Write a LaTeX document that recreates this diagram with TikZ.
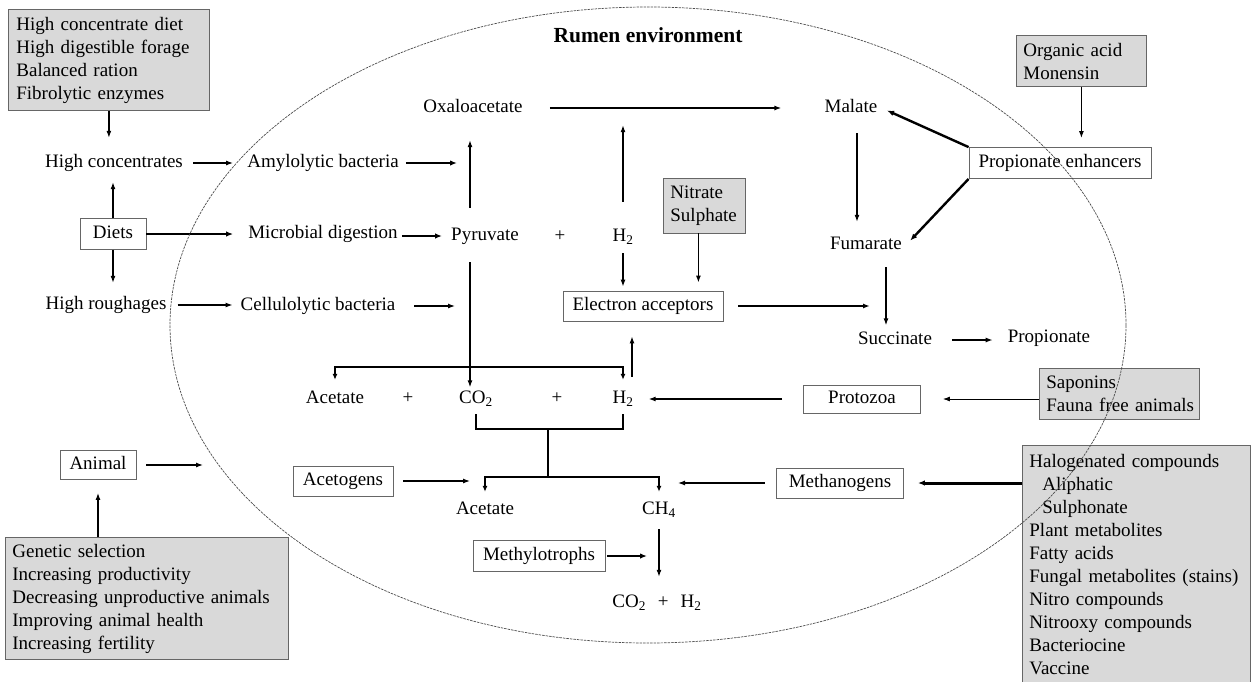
\documentclass[tikz,border=0pt]{standalone}
\usepackage{fontspec}
\setmainfont{Liberation Serif}
\usetikzlibrary{positioning,arrows.meta}

\begin{document}
\begin{tikzpicture}[x=1pt,y=-1pt,
  font=\fontsize{19}{23}\selectfont,
  txt/.style={inner xsep=4pt,inner ysep=3pt,text height=13pt,text depth=4pt},
  plainbox/.style={draw=black!60,fill=white,line width=.8pt,inner sep=0pt,
                   text height=13pt,text depth=4pt},
  graybox/.style={draw=black!60,fill=black!15,line width=.8pt,anchor=north west,
                  align=left,inner xsep=7pt,inner ysep=7.5pt},
  arrow/.style={-{Latex[length=7pt,width=5pt]},line width=1.2pt},
  boldarrow/.style={-{Latex[length=7pt,width=5.5pt]},line width=2.4pt},
  bar/.style={line width=2pt},
  bartip/.style={bar,-{Latex[length=6pt,width=5pt]}},
  rumen/.style={draw=black!70,line width=.7pt,dash pattern=on 2.5pt off 1pt}]
\useasboundingbox (0,0) rectangle (1253,681);
\clip (0,0) rectangle (1253,681);
\node[graybox,text width=185pt,inner xsep=8pt] (diet) at (8,9) {High concentrate diet\\High digestible forage\\Balanced ration\\Fibrolytic enzymes};
\node[txt] (conc) at (114,163) {High concentrates};
\node[plainbox,minimum width=66pt,minimum height=31pt] (diets) at (113,234) {Diets};
\node[txt] (rough) at (106,305) {High roughages};
\node[txt] (amy) at (323,163) {Amylolytic bacteria};
\node[txt] (mic) at (323,234) {Microbial digestion};
\node[txt] (cel) at (318,306) {Cellulolytic bacteria};
\node[font=\fontsize{21.5}{25}\selectfont\bfseries] (title) at (648,35) {Rumen environment};
\node[txt] (oxa) at (473,108) {Oxaloacetate};
\node[txt] (pyr) at (485,236) {Pyruvate};
\node[txt] (plus1) at (560,237) {+};
\node[txt] (hyd1) at (623,237) {H\textsubscript{2}};
\node[graybox,text width=68pt] (nit) at (663,178) {Nitrate\\Sulphate};
\node[plainbox,minimum width=160pt,minimum height=30pt] (acc) at (643,306) {Electron acceptors};
\node[txt] (mal) at (851,108) {Malate};
\node[txt] (fum) at (866,245) {Fumarate};
\node[txt] (suc) at (895,340) {Succinate};
\node[txt] (prop) at (1049,338) {Propionate};
\node[plainbox,minimum width=182pt,minimum height=31pt] (enh) at (1060,163) {Propionate enhancers};
\node[graybox,text width=116pt] (org) at (1016,35) {Organic acid\\Monensin};
\node[txt] (ace1) at (335,399) {Acetate};
\node[txt] (plus2) at (408,399) {+};
\node[txt] (co1) at (476,399) {CO\textsubscript{2}};
\node[txt] (plus3) at (557,399) {+};
\node[txt] (hyd2) at (623,399) {H\textsubscript{2}};
\node[plainbox,minimum width=117pt,minimum height=28pt] (pro) at (862,399) {Protozoa};
\node[graybox,text width=152pt,inner xsep=4pt] (sap) at (1039,368) {\hspace*{3pt}Saponins\\\hspace*{3pt}Fauna free animals};
\node[plainbox,minimum width=100pt,minimum height=30pt] (acg) at (343,481) {Acetogens};
\node[txt] (ace2) at (485,510) {Acetate};
\node[txt] (ch4) at (659,510) {CH\textsubscript{4}};
\node[plainbox,minimum width=127pt,minimum height=30pt] (mth) at (840,483) {Methanogens};
\node[graybox,text width=214pt,inner ysep=8.5pt] (halo) at (1022,445) {Halogenated compounds\\\hspace*{13pt}Aliphatic\\\hspace*{13pt}Sulphonate\\Plant metabolites\\Fatty acids\\Fungal metabolites (stains)\\Nitro compounds\\Nitrooxy compounds\\Bacteriocine\\Vaccine\strut};
\node[plainbox,minimum width=132pt,minimum height=31pt] (mty) at (539,556) {Methylotrophs};
\node[txt] (gas) at (657,603) {CO\textsubscript{2}\hspace{12pt}+\hspace{12pt}H\textsubscript{2}};
\node[plainbox,minimum width=76pt,minimum height=29pt] (ani) at (98,465) {Animal};
\node[graybox,text width=269pt,inner ysep=6.5pt] (gen) at (5,537) {Genetic selection\\Increasing productivity\\Decreasing unproductive animals\\Improving animal health\\Increasing fertility};
\coordinate (trunk) at (470,236);
\coordinate (fs) at (886,300);
\coordinate (splitA) at (470,367);
\coordinate (mergeC) at (548,429);
\coordinate (splitB) at (548,477);
\coordinate (edge) at (203,465);
\draw[arrow,shorten >=13.5pt] (diet.south) -- (diet.south |- conc.north);
\draw[arrow,shorten <=6pt,shorten >=10pt] (conc.east) -- (amy.west);
\draw[boldarrow,shorten <=3pt,shorten >=13pt] (amy.east) -- (amy.east -| trunk);
\draw[boldarrow,shorten >=11pt] (diets.east) -- (diets.east -| mic.west);
\draw[arrow,shorten >=7.5pt] (diets.north) -- (diets.north |- conc.south);
\draw[arrow,shorten >=10.5pt] (diets.south) -- (diets.south |- rough.north);
\draw[arrow,shorten <=7pt,shorten >=4pt] (rough.east) -- (rough.east -| cel.west);
\draw[arrow,shorten <=15pt,shorten >=15pt] (cel.east) -- (cel.east -| trunk);
\draw[boldarrow,shorten >=5pt] (mic.east |- pyr.west) -- (pyr.west);
\draw[arrow,shorten <=16.5pt,shorten >=20.5pt] (trunk |- pyr.north) -- (trunk |- oxa.south);
\draw[arrow,line width=1.8pt,shorten <=23pt,shorten >=39pt] (oxa.east) -- (oxa.east -| mal.west);
\draw[arrow,shorten <=23.5pt,shorten >=5.5pt] (hyd1.north) -- (hyd1.north |- oxa.south);
\draw[arrow,shorten <=4.5pt,shorten >=4pt] (hyd1.south) -- (hyd1.south |- acc.north);
\draw[arrow,shorten >=8pt] ([xshift=-6pt]nit.south) -- ([xshift=-6pt]nit.south |- acc.north);
\draw[arrow,line width=1.8pt,shorten <=15pt,shorten >=16pt] (acc.east) -- (acc.east -| fs);
\draw[arrow,shorten <=13.5pt,shorten >=11.5pt] ([xshift=6pt]mal.south) -- ([xshift=-9pt]fum.north);
\draw[arrow,shorten <=10.5pt,shorten >=3pt] (fs |- fum.south) -- (fs |- suc.north);
\draw[arrow,shorten <=16pt,shorten >=11pt] (suc.east) -- (suc.east -| prop.west);
\draw[arrow,shorten >=9pt] (org.south) -- (org.south |- enh.north);
\draw[boldarrow,shorten >=6pt] (enh.north west) -- (mal.east);
\draw[boldarrow,shorten >=6pt] (enh.south west) -- (fum.east);
\draw[arrow,shorten <=14.5pt] (trunk |- pyr.south) -- (trunk |- co1.north);
\draw[bartip,shorten >=7.5pt] (splitA) -| (ace1.north);
\draw[bartip,shorten >=7.5pt] (splitA) -| (hyd2.north);
\draw[arrow,shorten <=10.5pt,shorten >=15pt] ([xshift=9pt]hyd2.north) -- ([xshift=9pt]hyd2.north |- acc.south);
\draw[arrow,shorten <=21pt,shorten >=11pt] (pro.west) -- (pro.west -| hyd2.east);
\draw[arrow,line width=.9pt,shorten >=22pt] (sap.west |- pro.east) -- (pro.east);
\draw[bar,shorten <=3.5pt,shorten >=3.5pt] (co1.south) |- (mergeC) -| (hyd2.south);
\draw[bar] (mergeC) -- (splitB);
\draw[bartip,shorten >=6.5pt] (splitB) -| (ace2.north);
\draw[bartip,shorten >=6.5pt] (splitB) -| (ch4.north);
\draw[arrow,shorten <=10pt,shorten >=15pt] (acg.east) -- (acg.east -| ace2);
\draw[arrow,shorten <=11.5pt,shorten >=19pt] (mth.west) -- (mth.west -| ch4);
\draw[boldarrow,line width=3pt,shorten >=14pt] (halo.west |- mth.east) -- (mth.east);
\draw[arrow,shorten <=7.5pt,shorten >=14.5pt] (ch4.south) -- (ch4.south |- gas.north);
\draw[boldarrow,shorten <=2pt,shorten >=12pt] (mty.east) -- (mty.east -| ch4);
\draw[arrow,shorten <=10pt] (ani.east) -- (edge);
\draw[arrow,shorten >=13pt] (ani.south |- gen.north) -- (ani.south);
\draw[rumen] (648,325) ellipse [x radius=478pt,y radius=318pt];
\end{tikzpicture}
\end{document}
